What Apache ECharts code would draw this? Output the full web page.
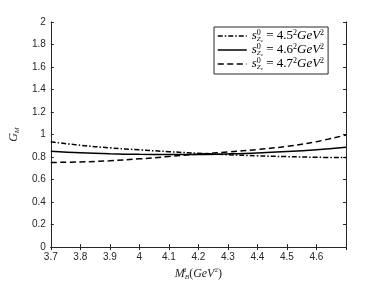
<!DOCTYPE html>
<html><head><meta charset="utf-8">
<script src="https://cdn.jsdelivr.net/npm/echarts@6/dist/echarts.min.js"></script>
<style>html,body{margin:0;padding:0;background:#fff}#c{width:382px;height:286px}</style>
</head><body><div id="c"></div>
<script>
const xValues = [3.7, 3.8, 3.9, 4.0, 4.1, 4.2, 4.3, 4.4, 4.5, 4.6, 4.7];
const gm45 = [0.935, 0.905, 0.882, 0.864, 0.848, 0.833, 0.821, 0.811, 0.804, 0.798, 0.795];
const gm46 = [0.852, 0.838, 0.829, 0.824, 0.822, 0.823, 0.828, 0.836, 0.849, 0.866, 0.888];
const gm47 = [0.752, 0.756, 0.767, 0.784, 0.805, 0.826, 0.845, 0.867, 0.895, 0.937, 0.996];
const thresholds = ['4.5', '4.6', '4.7'];
const xTickLabels = ['3.7','3.8','3.9','4','4.1','4.2','4.3','4.4','4.5','4.6',''];
const yTickLabels = ['0','0.2','0.4','0.6','0.8','1','1.2','1.4','1.6','1.8','2'];

const axisColor = '#262626';
const serif = 'Liberation Serif';
const pair = arr => xValues.map((x, i) => [x, arr[i]]);
const styles = [[5, 2, 1.5, 2], 'solid', [6, 3.5]];
const seriesData = [gm45, gm46, gm47];

const chart = echarts.init(document.getElementById('c'), null, {renderer: 'canvas'});
const commonX = {type: 'value', min: 3.7, max: 4.7, interval: 0.1, splitLine: {show: false},
  axisLine: {lineStyle: {color: axisColor, width: 1}},
  axisTick: {inside: true, length: 3, lineStyle: {color: axisColor}}};
const commonY = {type: 'value', min: 0, max: 2, interval: 0.2, splitLine: {show: false},
  axisLine: {show: true, lineStyle: {color: axisColor, width: 1}},
  axisTick: {show: true, inside: true, length: 3, lineStyle: {color: axisColor}}};

chart.setOption({
  animation: false,
  grid: {left: 50, right: 36, top: 22, bottom: 31, containLabel: false},
  xAxis: [
    Object.assign({}, commonX, {position: 'bottom',
      axisLabel: {color: axisColor, fontSize: 10, fontFamily: 'Liberation Sans', margin: 5,
        showMaxLabel: false,
        formatter: v => xTickLabels[Math.round((v - 3.7) * 10)] || ''},
      name: '{it|M}{sup|2}{sub|B}{rm|(}{it|GeV}{sup2|2}{rm|)}',
      nameLocation: 'middle', nameGap: 17,
      nameTextStyle: {color: axisColor, rich: {
        it: {fontFamily: serif, fontStyle: 'italic', fontSize: 12, lineHeight: 14},
        rm: {fontFamily: serif, fontSize: 12, lineHeight: 14},
        sup: {fontFamily: serif, fontSize: 7, width: 0, verticalAlign: 'top', lineHeight: 14},
        sup2: {fontFamily: serif, fontSize: 7, verticalAlign: 'top', lineHeight: 14},
        sub: {fontFamily: serif, fontStyle: 'italic', fontSize: 7, verticalAlign: 'bottom', lineHeight: 14}
      }}}),
    Object.assign({}, commonX, {position: 'top', axisLabel: {show: false}})
  ],
  yAxis: [
    Object.assign({}, commonY, {position: 'left',
      axisLabel: {color: axisColor, fontSize: 10, fontFamily: 'Liberation Sans', margin: 5,
        formatter: v => yTickLabels[Math.round(v * 5)]},
      name: '{it|G}{sub|M}', nameLocation: 'middle', nameGap: 26, nameRotate: 90,
      nameTextStyle: {color: axisColor, rich: {
        it: {fontFamily: serif, fontStyle: 'italic', fontSize: 12, lineHeight: 14},
        sub: {fontFamily: serif, fontStyle: 'italic', fontSize: 7, verticalAlign: 'bottom', lineHeight: 14}
      }}}),
    Object.assign({}, commonY, {position: 'right', axisLabel: {show: false}})
  ],
  legend: {
    orient: 'vertical', left: 214, top: 27,
    backgroundColor: '#fff', borderColor: axisColor, borderWidth: 1,
    padding: [2, 4, 3, 3], itemGap: 0, itemWidth: 29, itemHeight: 14,
    itemStyle: {opacity: 0},
    lineStyle: {width: 1.5},
    data: thresholds.map(t => 's' + t),
    formatter: name => '{s|s}{sup|0}{sub|Z}{subc|c}{rm| = ' + name.slice(1) + '}{sup2|2}{it|GeV}{sup2|2}',
    textStyle: {color: '#000', rich: {
      s: {fontFamily: serif, fontStyle: 'italic', fontSize: 13, lineHeight: 14},
      it: {fontFamily: serif, fontStyle: 'italic', fontSize: 13, lineHeight: 14},
      rm: {fontFamily: serif, fontSize: 13, lineHeight: 14},
      sup: {fontFamily: serif, fontSize: 8, width: 0, verticalAlign: 'top', lineHeight: 14},
      sup2: {fontFamily: serif, fontSize: 8, verticalAlign: 'top', lineHeight: 14},
      sub: {fontFamily: serif, fontStyle: 'italic', fontSize: 7, verticalAlign: 'bottom', lineHeight: 14},
      subc: {fontFamily: serif, fontStyle: 'italic', fontSize: 5, verticalAlign: 'bottom', lineHeight: 14}
    }}
  },
  series: thresholds.map((t, i) => ({
    name: 's' + t, type: 'line', xAxisIndex: 0, yAxisIndex: 0,
    data: pair(seriesData[i]), smooth: 0.4, showSymbol: false, symbol: 'none',
    lineStyle: {color: '#000', width: 1.5, type: styles[i]},
    itemStyle: {color: '#000'}
  }))
});
</script></body></html>
